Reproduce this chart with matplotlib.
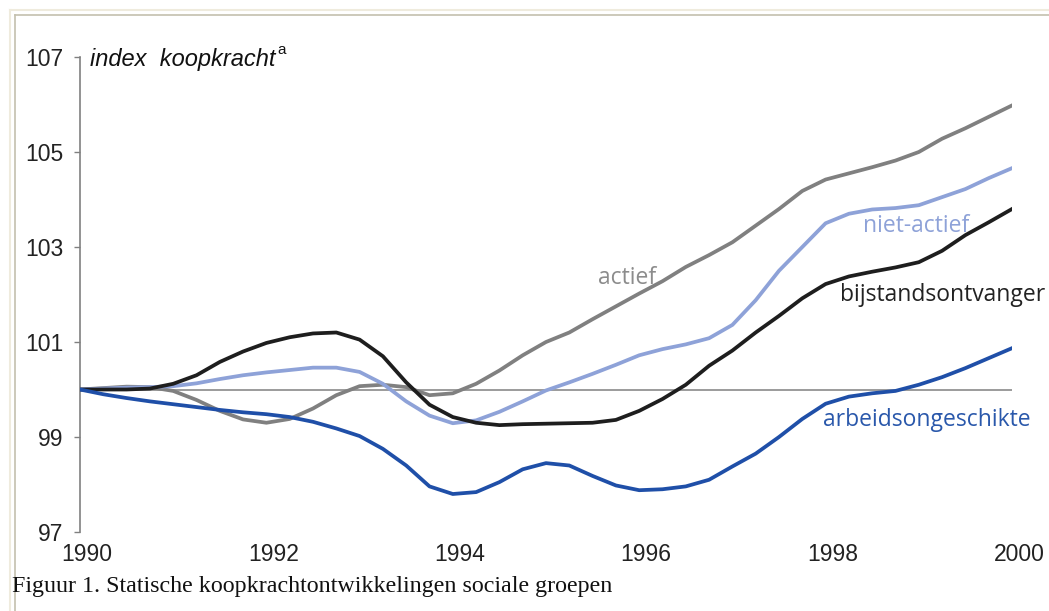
import numpy as np
import matplotlib
matplotlib.use("Agg")
import matplotlib.pyplot as plt
from matplotlib.lines import Line2D
from matplotlib.transforms import ScaledTranslation

## data, quarter-year steps
years = np.arange(1990, 2000.01, 0.25)

actief = [100.00, 100.03, 100.06, 100.05, 99.97, 99.78, 99.55, 99.37, 99.30, 99.38,
          99.60, 99.88, 100.07, 100.10, 100.05, 99.88, 99.92, 100.12, 100.40, 100.72,
          101.00, 101.20, 101.48, 101.75, 102.02, 102.28, 102.58, 102.83, 103.10, 103.45,
          103.80, 104.18, 104.42, 104.55, 104.68, 104.82, 105.00, 105.28, 105.50, 105.74,
          105.98]
niet_actief = [100.00, 100.02, 100.04, 100.05, 100.07, 100.13, 100.22, 100.30, 100.36, 100.41,
               100.46, 100.46, 100.37, 100.12, 99.75, 99.45, 99.29, 99.35, 99.53, 99.75,
               99.98, 100.15, 100.33, 100.52, 100.72, 100.85, 100.95, 101.08, 101.36, 101.88,
               102.50, 103.00, 103.50, 103.70, 103.79, 103.82, 103.88, 104.05, 104.22, 104.45,
               104.66]
bijstand = [100.00, 100.00, 100.00, 100.02, 100.12, 100.30, 100.58, 100.80, 100.98, 101.10,
            101.18, 101.20, 101.05, 100.70, 100.15, 99.68, 99.42, 99.30, 99.25, 99.27,
            99.28, 99.29, 99.30, 99.36, 99.55, 99.80, 100.10, 100.50, 100.82, 101.20,
            101.55, 101.92, 102.22, 102.38, 102.48, 102.57, 102.68, 102.92, 103.25, 103.52,
            103.80]
arbeid = [100.00, 99.90, 99.82, 99.75, 99.69, 99.63, 99.57, 99.52, 99.48, 99.42,
          99.32, 99.18, 99.02, 98.75, 98.40, 97.96, 97.80, 97.84, 98.05, 98.32,
          98.45, 98.40, 98.18, 97.98, 97.88, 97.90, 97.96, 98.10, 98.38, 98.65,
          99.00, 99.38, 99.70, 99.85, 99.92, 99.97, 100.10, 100.26, 100.45, 100.66,
          100.87]

yticks = [97, 99, 101, 103, 105, 107]
xticks = [1990, 1992, 1994, 1996, 1998, 2000]

W, H = 1049, 611
fig = plt.figure(figsize=(W / 100, H / 100), dpi=100)
ax = fig.add_axes([80 / W, (H - 532) / H, 932 / W, 475 / H])

ax.plot([1990, 2000], [100, 100], color="#8a8a8a", lw=1.2, zorder=1)
lw = 2.7
ax.plot(years, actief, color="#808080", lw=lw, solid_joinstyle="round", zorder=2)
ax.plot(years, niet_actief, color="#8ea2d8", lw=lw, solid_joinstyle="round", zorder=3)
ax.plot(years, bijstand, color="#1e1e1e", lw=lw, solid_joinstyle="round", zorder=4)
ax.plot(years, arbeid, color="#1f4fa8", lw=lw, solid_joinstyle="round", zorder=5)

ax.set_xlim(1990, 2000)
ax.set_ylim(97, 107)
for s in ["top", "right", "bottom"]:
    ax.spines[s].set_visible(False)
ax.spines["left"].set_color("#808080")
ax.spines["left"].set_linewidth(1.2)

tick_font = dict(family=["Liberation Sans", "DejaVu Sans"], size=16.5)
ax.set_yticks(yticks)
ax.set_yticklabels([str(v) for v in yticks], **tick_font, color="#222222")
ax.tick_params(axis="y", length=4, width=1.0, color="#808080", pad=8)
ax.set_xticks(xticks)
ax.set_xticklabels([str(v) for v in xticks], **tick_font, color="#222222")
ax.tick_params(axis="x", length=0, pad=8)
for lab in ax.get_xticklabels():
    lab.set_transform(lab.get_transform() + ScaledTranslation(0.07, 0, fig.dpi_scale_trans))

lab_font = dict(family=["Open Sans", "DejaVu Sans"], size=16.5, ha="left", va="baseline")
ax.text(1995.56, 102.22, "actief", color="#8c8c8c", **lab_font)
ax.text(1998.40, 103.32, "niet-actief", color="#8ea2d8", **lab_font)
ax.text(1998.15, 101.86, "bijstandsontvanger", color="#222222", **lab_font)
ax.text(1997.97, 99.23, "arbeidsongeschikte", color="#2a58ab", **lab_font)

fig.text(90 / W, (H - 66) / H, "index  koopkracht", family=["Liberation Sans", "DejaVu Sans"],
         style="italic", size=17, ha="left", va="baseline", color="#111111")
fig.text(277 / W, (H - 54) / H, "a", family=["Liberation Sans", "DejaVu Sans"],
         size=11, ha="left", va="baseline", color="#111111")

fig.text(12 / W, (H - 592) / H, "Figuur 1. Statische koopkrachtontwikkelingen sociale groepen",
         family=["Liberation Serif", "DejaVu Serif"], size=17.3, ha="left", va="baseline",
         color="#111111")

# beige frame of the original page
fig.add_artist(Line2D([10 / W, 1], [1 - 10 / H, 1 - 10 / H], color="#efebdd", lw=1.5))
fig.add_artist(Line2D([10 / W, 10 / W], [0, 1 - 10 / H], color="#efebdd", lw=1.5))
fig.add_artist(Line2D([15 / W, 1], [1 - 15 / H, 1 - 15 / H], color="#c4c0ae", lw=1.2))
fig.add_artist(Line2D([15 / W, 15 / W], [0, 1 - 15 / H], color="#c4c0ae", lw=1.2))

fig.savefig("out.png", dpi=100)
